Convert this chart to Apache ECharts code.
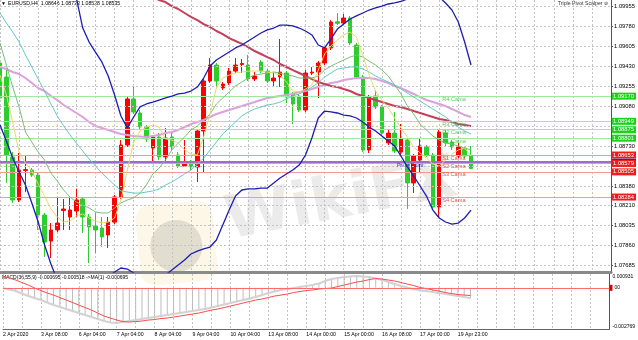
<!DOCTYPE html>
<html><head><meta charset="utf-8">
<script src="https://cdn.jsdelivr.net/npm/echarts@6/dist/echarts.min.js"></script>
<style>html,body{margin:0;padding:0;background:#fff}#c{width:638px;height:340px}</style>
</head><body><div id="c"></div>
<script>
// ---- tick labels (every 6 bars) ----
const timeTickLabels = ['2 Apr 2020','3 Apr 08:00','6 Apr 04:00','7 Apr 04:00','8 Apr 04:00','9 Apr 04:00','10 Apr 04:00','13 Apr 08:00','14 Apr 00:00','15 Apr 00:00','16 Apr 08:00','17 Apr 00:00','19 Apr 23:00'];
const priceTicks = [1.09955,1.09780,1.09605,1.09430,1.09255,1.09080,1.08730,1.08380,1.08210,1.08035,1.07860,1.07685];
const priceGrid = [1.09955,1.09780,1.09605,1.09430,1.09255,1.09080,1.08905,1.08730,1.08555,1.08380,1.08210,1.08035,1.07860,1.07685];
const macdTicks = [0.000931,-0.002769];

// ---- EURUSD H4 candles ----
const open = [1.09461,1.09338,1.08636,1.08258,1.08517,1.08521,1.08477,1.08126,1.07898,1.07995,
1.08166,1.08109,1.08161,1.08267,1.08109,1.08029,1.08012,1.07951,1.08064,1.08285,
1.08741,1.09145,1.09022,1.08899,1.08714,1.08811,1.08636,1.08811,1.08653,1.08556,
1.08583,1.08548,1.08864,1.09303,1.09443,1.09242,1.09286,1.09390,1.09448,1.09443,
1.09321,1.09469,1.09390,1.09303,1.09338,1.09373,1.09189,1.09171,1.09048,1.09373,
1.09381,1.09461,1.09593,1.09823,1.09812,1.09856,1.09619,1.09338,1.08697,1.09171,
1.09075,1.08759,1.08846,1.08679,1.08785,1.08408,1.08609,1.08724,1.08653,1.08196,
1.08846,1.08767,1.08644,1.08714,1.08646];
const close = [1.09154,1.08653,1.08258,1.08521,1.08525,1.08477,1.08126,1.07889,1.07995,1.08056,
1.08179,1.08170,1.08258,1.08109,1.08021,1.07995,1.07934,1.08064,1.08285,1.08741,
1.09145,1.09030,1.08899,1.08794,1.08811,1.08636,1.08802,1.08724,1.08556,1.08583,
1.08548,1.08864,1.09303,1.09443,1.09303,1.09276,1.09390,1.09443,1.09457,1.09321,
1.09347,1.09390,1.09303,1.09329,1.09381,1.09163,1.09101,1.09048,1.09373,1.09381,
1.09461,1.09593,1.09821,1.09809,1.09856,1.09637,1.09338,1.08697,1.09163,1.09075,
1.08846,1.08846,1.08688,1.08794,1.08408,1.08644,1.08732,1.08653,1.08196,1.08855,
1.08759,1.08724,1.08724,1.08644,1.08535];
const high = [1.09505,1.09399,1.08679,1.08671,1.08653,1.08539,1.08503,1.08144,1.08056,1.08285,
1.08267,1.08276,1.08355,1.08285,1.08135,1.08144,1.08109,1.08109,1.08302,1.08785,
1.09163,1.09251,1.09048,1.08916,1.08829,1.08846,1.08890,1.08846,1.08679,1.08785,
1.08609,1.08881,1.09321,1.09505,1.09461,1.09294,1.09417,1.09505,1.09496,1.09531,
1.09382,1.09487,1.09408,1.09382,1.09672,1.09390,1.09206,1.09189,1.09399,1.09426,
1.09478,1.09610,1.09838,1.09900,1.09891,1.09874,1.09637,1.09355,1.09180,1.09224,
1.09092,1.08873,1.09030,1.08925,1.08802,1.08662,1.08802,1.08741,1.08671,1.08873,
1.08873,1.08785,1.08759,1.08732,1.08733];
const low = [1.09127,1.08408,1.08232,1.08240,1.08328,1.08460,1.07995,1.07758,1.07749,1.07977,
1.07995,1.07995,1.08109,1.07969,1.07705,1.07793,1.07846,1.07837,1.08047,1.08267,
1.08724,1.09013,1.08873,1.08767,1.08583,1.08609,1.08583,1.08697,1.08539,1.08548,
1.08521,1.08416,1.08503,1.09286,1.09242,1.09224,1.09268,1.09373,1.09373,1.09303,
1.09303,1.09373,1.09286,1.09251,1.09251,1.09110,1.08925,1.09030,1.09030,1.09355,
1.09154,1.09443,1.09575,1.09794,1.09794,1.09619,1.09321,1.08679,1.08671,1.09057,
1.08829,1.08741,1.08671,1.08653,1.08179,1.08320,1.08503,1.08636,1.08179,1.08109,
1.08732,1.08697,1.08626,1.08626,1.08528];

// ---- indicator lines ----
const maYellow = [1.09355,1.09180,1.08943,1.08679,1.08583,1.08512,1.08398,1.08293,1.08179,1.08109,
1.08065,1.08074,1.08118,1.08135,1.08100,1.08074,1.08056,1.08065,1.08100,1.08258,
1.08521,1.08767,1.08864,1.08899,1.08917,1.08899,1.08794,1.08785,1.08758,1.08697,
1.08662,1.08653,1.08811,1.09013,1.09241,1.09329,1.09355,1.09373,1.09382,1.09390,
1.09390,1.09390,1.09382,1.09373,1.09355,1.09294,1.09215,1.09206,1.09232,1.09268,
1.09399,1.09540,1.09610,1.09663,1.09707,1.09733,1.09689,1.09531,1.09355,1.09215,
1.09136,1.09066,1.08978,1.08890,1.08811,1.08723,1.08671,1.08626,1.08574,1.08556,
1.08609,1.08662,1.08697,1.08715,1.08644];
const maGreen = [1.09637,1.09443,1.09250,1.09075,1.08855,1.08767,1.08679,1.08609,1.08495,1.08425,
1.08346,1.08284,1.08240,1.08214,1.08188,1.08153,1.08144,1.08144,1.08188,1.08232,
1.08258,1.08276,1.08319,1.08390,1.08486,1.08539,1.08609,1.08697,1.08758,1.08811,
1.08873,1.08908,1.08960,1.09013,1.09101,1.09154,1.09206,1.09259,1.09294,1.09329,
1.09355,1.09364,1.09373,1.09382,1.09373,1.09355,1.09347,1.09329,1.09329,1.09329,
1.09347,1.09399,1.09434,1.09461,1.09487,1.09513,1.09531,1.09513,1.09478,1.09443,
1.09399,1.09347,1.09268,1.09189,1.09083,1.09013,1.08925,1.08873,1.08820,1.08785,
1.08758,1.08750,1.08732,1.08715,1.08697];
const maCyan = [1.09900,1.09812,1.09733,1.09645,1.09531,1.09426,1.09320,1.09215,1.09101,1.08996,
1.08908,1.08829,1.08758,1.08688,1.08618,1.08556,1.08495,1.08442,1.08390,1.08337,
1.08328,1.08319,1.08319,1.08328,1.08337,1.08355,1.08390,1.08416,1.08451,1.08486,
1.08521,1.08574,1.08626,1.08697,1.08767,1.08837,1.08890,1.08943,1.08996,1.09031,
1.09057,1.09075,1.09092,1.09101,1.09118,1.09145,1.09171,1.09189,1.09215,1.09250,
1.09285,1.09338,1.09373,1.09408,1.09417,1.09426,1.09426,1.09408,1.09382,1.09347,
1.09320,1.09294,1.09268,1.09232,1.09197,1.09162,1.09127,1.09092,1.09057,1.09022,
1.08987,1.08943,1.08899,1.08864,1.08837];
const maPink = [1.09426,1.09408,1.09382,1.09364,1.09329,1.09285,1.09241,1.09215,1.09171,1.09136,
1.09092,1.09057,1.09022,1.08987,1.08943,1.08908,1.08890,1.08873,1.08855,1.08837,
1.08829,1.08820,1.08816,1.08811,1.08820,1.08829,1.08846,1.08855,1.08873,1.08899,
1.08925,1.08943,1.08960,1.08987,1.09013,1.09031,1.09048,1.09066,1.09083,1.09101,
1.09118,1.09136,1.09154,1.09162,1.09171,1.09180,1.09189,1.09206,1.09215,1.09232,
1.09250,1.09268,1.09285,1.09294,1.09312,1.09320,1.09329,1.09329,1.09329,1.09320,
1.09303,1.09285,1.09259,1.09241,1.09215,1.09189,1.09162,1.09136,1.09118,1.09101,
1.09083,1.09057,1.09031,1.09004,1.08987];
const maMaroon = [1.10760,1.10734,1.10699,1.10664,1.10629,1.10593,1.10558,1.10523,1.10488,1.10453,
1.10418,1.10383,1.10356,1.10330,1.10304,1.10277,1.10251,1.10225,1.10198,1.10172,
1.10146,1.10119,1.10093,1.10067,1.10040,1.10014,1.09996,1.09961,1.09935,1.09900,
1.09865,1.09838,1.09803,1.09777,1.09742,1.09715,1.09680,1.09654,1.09628,1.09601,
1.09566,1.09540,1.09513,1.09487,1.09452,1.09426,1.09399,1.09373,1.09347,1.09320,
1.09294,1.09276,1.09259,1.09250,1.09232,1.09215,1.09189,1.09171,1.09154,1.09136,
1.09118,1.09101,1.09083,1.09075,1.09057,1.09039,1.09022,1.09004,1.08987,1.08969,
1.08960,1.08943,1.08925,1.08917,1.08908];
const bbUpper = [1.11331,1.11243,1.11155,1.11068,1.10980,1.10892,1.10804,1.10716,1.10629,1.10497,
1.10365,1.10190,1.10032,1.09768,1.09645,1.09557,1.09470,1.09347,1.09180,1.08996,
1.08890,1.08987,1.09075,1.09101,1.09118,1.09136,1.09154,1.09171,1.09189,1.09197,
1.09215,1.09250,1.09329,1.09434,1.09487,1.09522,1.09557,1.09593,1.09619,1.09654,
1.09689,1.09724,1.09751,1.09768,1.09794,1.09794,1.09786,1.09768,1.09742,1.09707,
1.09619,1.09593,1.09672,1.09759,1.09803,1.09847,1.09874,1.09900,1.09926,1.09944,
1.09961,1.09979,1.09988,1.10001,1.10023,1.10058,1.10084,1.10102,1.10084,1.10040,
1.09988,1.09926,1.09821,1.09645,1.09443];
const bbLower = [1.08917,1.08776,1.08626,1.08504,1.08390,1.08232,1.08065,1.07863,1.07696,1.07556,
1.07468,1.07424,1.07398,1.07415,1.07450,1.07494,1.07538,1.07582,1.07626,1.07661,
1.07652,1.07617,1.07556,1.07512,1.07512,1.07538,1.07600,1.07643,1.07687,1.07731,
1.07784,1.07810,1.07828,1.07845,1.07907,1.08039,1.08170,1.08293,1.08346,1.08355,
1.08355,1.08363,1.08363,1.08407,1.08451,1.08486,1.08521,1.08565,1.08653,1.08802,
1.08978,1.09039,1.09031,1.09022,1.09004,1.08996,1.08978,1.08943,1.08899,1.08864,
1.08820,1.08776,1.08732,1.08644,1.08548,1.08469,1.08381,1.08293,1.08170,1.08100,
1.08065,1.08047,1.08056,1.08100,1.08170];

// ---- Camarilla / pivot levels ----
const levelNames = ['R4 Cama','R3 Cama','R2 Cama','R1 Cama','S1 Cama','S2 Cama','S3 Cama','S4 Cama'];
const levelValues = [1.09170,1.08949,1.08875,1.08801,1.08653,1.08579,1.08505,1.08284];
const pivotName = 'Pivot Point';
const pivotValue = 1.08590;
const lastPrice = 1.08535;

// ---- MACD(36,55,9) ----
const macdMain = [-0.000013,-0.000114,-0.000215,-0.000384,-0.000552,-0.000686,-0.000821,-0.000989,-0.001157,-0.001292,
-0.001427,-0.001561,-0.001696,-0.001830,-0.001965,-0.002099,-0.002234,-0.002335,-0.002369,-0.002301,
-0.002234,-0.002167,-0.002099,-0.002032,-0.001965,-0.001898,-0.001830,-0.001763,-0.001696,-0.001629,
-0.001561,-0.001494,-0.001427,-0.001326,-0.001225,-0.001124,-0.001023,-0.000922,-0.000821,-0.000720,
-0.000619,-0.000485,-0.000350,-0.000249,-0.000148,-0.000081,-0.000013,0.000054,0.000121,0.000188,
0.000289,0.000458,0.000592,0.000660,0.000727,0.000760,0.000794,0.000760,0.000727,0.000626,
0.000525,0.000390,0.000256,0.000121,0.000020,-0.000081,-0.000182,-0.000215,-0.000283,-0.000350,
-0.000417,-0.000485,-0.000552,-0.000619,-0.000695];
const macdSignal = [0.000794,0.000660,0.000525,0.000357,0.000188,-0.000013,-0.000182,-0.000350,-0.000485,-0.000653,
-0.000821,-0.000989,-0.001157,-0.001326,-0.001494,-0.001696,-0.001898,-0.002032,-0.002167,-0.002268,
-0.002301,-0.002268,-0.002234,-0.002167,-0.002133,-0.002066,-0.002032,-0.001965,-0.001898,-0.001830,
-0.001763,-0.001696,-0.001595,-0.001494,-0.001427,-0.001326,-0.001225,-0.001124,-0.001023,-0.000922,
-0.000821,-0.000754,-0.000653,-0.000552,-0.000485,-0.000417,-0.000316,-0.000249,-0.000182,-0.000148,
-0.000081,-0.000047,-0.000013,0.000087,0.000188,0.000289,0.000390,0.000458,0.000559,0.000626,
0.000592,0.000525,0.000458,0.000357,0.000256,0.000155,0.000020,-0.000047,-0.000148,-0.000215,
-0.000316,-0.000384,-0.000451,-0.000485,-0.000518];

// ---- build ----
const SLOTS = 97; // bars + empty right margin
const slots = Array.from({length: SLOTS}, (_, i) => String(i));
const FONT = '"Liberation Sans", Arial, sans-serif';
const gridLine = {color:'#c4c4c4', type:[2,2], width:1};
const candleData = open.map((o, i) => [o, close[i], low[i], high[i]]);

function maLine(data, color, width, z) {
  return {type:'line', xAxisIndex:0, yAxisIndex:0, data, showSymbol:false, symbol:'none',
    lineStyle:{color, width}, z, silent:true, clip:true};
}
function tag(v, bg) {
  return {show:true, position:'end', distance:1, formatter: v.toFixed(5), backgroundColor:bg,
    color:'#fff', fontSize:5.8, fontFamily:FONT, padding:[1,2,0,1]};
}

const levelLines = levelValues.map((v, i) => ({
  yAxis: v,
  lineStyle: {color: i < 4 ? '#9fe89f' : '#f09a9a', width: 1, type: 'solid'},
  label: tag(v, i < 4 ? '#19d219' : '#ee1c1c')
}));
const camLines = [
  ...levelLines.slice(0, 5),
  {yAxis: pivotValue, lineStyle:{color:'#9b6cc9', width:2, type:'solid'}, label: tag(pivotValue, '#2a2aa8')},
  levelLines[5],
  {yAxis: lastPrice, lineStyle:{opacity:0}, label: tag(lastPrice, '#111111')},
  levelLines[6], levelLines[7]
];

const levelText = levelValues.map((v, i) => ({
  value:[69, v],
  label:{color: i < 4 ? '#2fbf2f' : '#dd1f1f'}
}));
levelText.push({value:[62, pivotValue], label:{color:'#1515cc', distance:1}});
const levelTextNames = levelNames.concat([pivotName]);

const chart = echarts.init(document.getElementById('c'));
chart.setOption({
  animation:false,
  backgroundColor:'#ffffff',
  grid:[{left:0, top:0, width:613, height:272}, {left:0, top:274, width:613, height:55}],
  xAxis:[
    {type:'category', gridIndex:0, data:slots, boundaryGap:false,
     axisLine:{show:true, onZero:false, lineStyle:{color:'#8a8a8a', width:3}},
     axisTick:{show:false}, axisLabel:{show:false},
     splitLine:{show:true, interval:2, lineStyle:gridLine}},
    {type:'category', gridIndex:1, data:slots, boundaryGap:false,
     axisLine:{show:true, onZero:false, lineStyle:{color:'#666', width:1}},
     axisTick:{show:false},
     axisLabel:{show:true, interval:5, align:'left', fontSize:5.2, color:'#000', margin:3, fontFamily:FONT,
       formatter:(v, i) => timeTickLabels[i / 6] || ''},
     splitLine:{show:true, interval:2, lineStyle:gridLine}}
  ],
  yAxis:[
    {type:'value', gridIndex:0, position:'right', min:1.07626, max:1.10014,
     axisLine:{show:true, lineStyle:{color:'#555'}},
     axisTick:{show:true, length:2, customValues:priceTicks, lineStyle:{color:'#555'}},
     axisLabel:{customValues:priceTicks, fontSize:5.8, color:'#000', margin:3, fontFamily:FONT,
       formatter:v => v.toFixed(5)},
     splitLine:{show:false}},
    {type:'value', gridIndex:1, position:'right', min:-0.002769, max:0.000931,
     axisLine:{show:true, lineStyle:{color:'#555'}},
     axisTick:{show:false},
     axisLabel:{customValues:macdTicks, fontSize:5, color:'#000', margin:3, fontFamily:FONT,
       formatter:v => v > 0 ? '{t|' + v.toFixed(6) + '}' : '{b|' + v.toFixed(6) + '}',
       rich:{t:{fontSize:5, fontFamily:FONT, padding:[5,0,0,0]}, b:{fontSize:5, fontFamily:FONT, padding:[0,0,5,0]}}},
     splitLine:{show:false}}
  ],
  series:[
    {type:'line', xAxisIndex:0, yAxisIndex:0, data:close, showSymbol:false, symbol:'none',
     lineStyle:{opacity:0}, silent:true, z:1,
     markLine:{silent:true, symbol:'none', animation:false, precision:5, label:{show:false}, lineStyle:gridLine,
       data: priceGrid.map(v => ({yAxis:v}))}},
    {type:'line', xAxisIndex:0, yAxisIndex:0, data:close, showSymbol:false, symbol:'none',
     lineStyle:{opacity:0}, silent:true, z:2,
     markLine:{silent:true, symbol:'none', animation:false, precision:5, data: camLines}},
    {type:'candlestick', xAxisIndex:0, yAxisIndex:0, data:candleData, barWidth:4, z:3,
     itemStyle:{color:'#ff0000', color0:'#2ecc2e', borderColor:'#ff0000', borderColor0:'#2ecc2e', borderWidth:1}},
    maLine(maPink, '#dca0dc', 2, 4),
    maLine(maMaroon, '#c2405a', 2, 4),
    maLine(maCyan, '#66c8c8', 1, 5),
    maLine(maGreen, '#78bf78', 1, 5),
    maLine(maYellow, '#e6da6a', 1, 6),
    maLine(bbUpper, '#1c1cb4', 1.3, 6),
    maLine(bbLower, '#1c1cb4', 1.3, 6),
    {type:'scatter', xAxisIndex:0, yAxisIndex:0, data:levelText, symbolSize:2,
     itemStyle:{color:'rgba(0,0,0,0)'}, z:7, silent:true,
     label:{show:true, position:'right', distance:2, offset:[0,3], fontSize:5.6, fontFamily:FONT,
       formatter:p => levelTextNames[p.dataIndex]}},
    {type:'bar', xAxisIndex:1, yAxisIndex:1, data:macdMain, barWidth:1, itemStyle:{color:'#bdbdbd'}, z:2, silent:true},
    {type:'line', xAxisIndex:1, yAxisIndex:1, data:macdMain, showSymbol:false, symbol:'none',
     lineStyle:{color:'#d2d2d2', width:2}, z:3, silent:true},
    {type:'line', xAxisIndex:1, yAxisIndex:1, data:macdSignal, showSymbol:false, symbol:'none',
     lineStyle:{color:'#ff4a4a', width:1}, z:4, silent:true,
     markLine:{silent:true, symbol:'none', animation:false,
       lineStyle:{color:'#ff6a6a', width:1, type:'solid'},
       data:[{yAxis:0, label:{show:true, position:'end', distance:0, formatter:'{r|}{t|00}',
         rich:{r:{backgroundColor:'#e00000', width:3, height:6}, t:{fontSize:5, color:'#000', padding:[0,0,0,2], fontFamily:FONT}}}}]}}
  ],
  graphic:[
    {type:'text', left:1, top:1, silent:true, style:{text:'\u25BC', font:'5px ' + FONT, fill:'#000'}},
    {type:'text', left:8, top:1.5, silent:true, style:{text:'EURUSD,H4  1.08646 1.08733 1.08528 1.08535', font:'5.2px ' + FONT, fill:'#000'}},
    {type:'text', right:30, top:1.5, silent:true, style:{text:'Triple Pivot Scalper \u229A', font:'5.2px ' + FONT, fill:'#333'}},
    {type:'text', left:2, top:275, silent:true, style:{text:'MACD(36,55,9) -0.000695 -0.000518 ->MA(1) -0.000695', font:'5px ' + FONT, fill:'#000'}},
    {type:'group', x:176, y:243, rotation:0.1, silent:true, z:50, children:[
      {type:'rect', shape:{x:-38, y:-40, width:77, height:80, r:14}, style:{fill:'rgba(240,214,130,0.2)'}},
      {type:'circle', shape:{cx:0, cy:3, r:26}, style:{fill:'rgba(105,105,105,0.18)'}}
    ]},
    {type:'group', x:232, y:253, rotation:0.19, silent:true, z:50, children:[
      {type:'text', style:{text:'WikiFX', x:0, y:0, font:'bold 60px "DejaVu Sans"', fill:'rgba(165,165,165,0.22)', verticalAlign:'bottom'}}
    ]}
  ]
});
</script>
</body></html>
